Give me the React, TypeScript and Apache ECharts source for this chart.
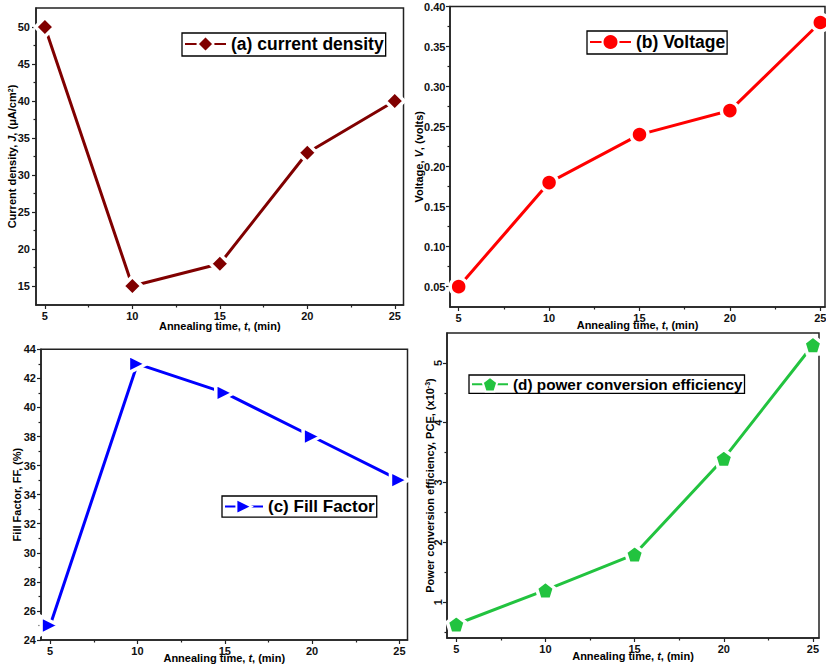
import React, { useEffect, useRef } from "react";
import * as echarts from "echarts";

const times = [5, 10, 15, 20, 25];
const currentDensity = [50, 15, 18, 33, 40];
const voltage = [0.05, 0.18, 0.24, 0.27, 0.38];
const fillFactor = [25, 43, 41, 38, 35];
const pce = [0.63, 1.2, 1.8, 3.4, 5.3];

const xMajor = [5, 10, 15, 20, 25];
const xMinor = [7.5, 12.5, 17.5, 22.5];
const aMajor = [15, 20, 25, 30, 35, 40, 45, 50];
const aMinor = [17.5, 22.5, 27.5, 32.5, 37.5, 42.5, 47.5];
const bMajor = [0.05, 0.1, 0.15, 0.2, 0.25, 0.3, 0.35, 0.4];
const bMinor = [0.075, 0.125, 0.175, 0.225, 0.275, 0.325, 0.375];
const cMajor = [24, 26, 28, 30, 32, 34, 36, 38, 40, 42, 44];
const cMinor = [25, 27, 29, 31, 33, 35, 37, 39, 41, 43];
const dMajor = [1, 2, 3, 4, 5];
const dMinor = [0.5, 1.5, 2.5, 3.5, 4.5];

const FONT = "'Liberation Sans', Arial, sans-serif";
const AXIS_COLOR = "#222";
const PENTAGON =
  "path://M0,-50 L47.55,-15.45 L29.39,40.45 L-29.39,40.45 L-47.55,-15.45 Z";

const richBase = {
  n: { fontSize: 11, fontWeight: "bold", fontFamily: FONT, color: "#000" },
  i: { fontSize: 11, fontWeight: "bold", fontStyle: "italic", fontFamily: FONT, color: "#000" },
  s: { fontSize: 7, fontWeight: "bold", fontFamily: FONT, color: "#000", verticalAlign: "top" },
};

type Panel = {
  grid: { left: number; top: number; width: number; height: number };
  xRange: [number, number];
  yRange: [number, number];
  yMajor: number[];
  yMinor: number[];
  yFmt: (v: number) => string;
  yName: string;
  xNameGap: number;
  yNameGap: number;
  yLabelMargin: number;
  yLabelRotate: number;
  name: string;
  values: number[];
  color: string;
  symbol: string;
  symbolSize: number;
  symbolRotate: number;
  legend: { left: number; top: number; fontSize: number; itemWidth: number; itemHeight: number; padding: number[] };
};

const panels: Panel[] = [
  {
    grid: { left: 36, top: 8, width: 367.5, height: 297 },
    xRange: [4.49, 25.5],
    yRange: [12.43, 52.57],
    yMajor: aMajor,
    yMinor: aMinor,
    yFmt: (v) => String(v),
    yName: "{n|Current density, }{i|J}{n|, (μA/cm}{s|2}{n|)}",
    xNameGap: 15,
    yNameGap: 18.5,
    yLabelMargin: 6,
    yLabelRotate: 0,
    name: "(a) current density",
    values: currentDensity,
    color: "#800000",
    symbol: "diamond",
    symbolSize: 19,
    symbolRotate: 0,
    legend: { left: 182, top: 33, fontSize: 17.5, itemWidth: 41, itemHeight: 20, padding: [2, 2, 3, 2] },
  },
  {
    grid: { left: 450, top: 6.5, width: 375, height: 300.5 },
    xRange: [4.52, 25.26],
    yRange: [0.0246, 0.4],
    yMajor: bMajor,
    yMinor: bMinor,
    yFmt: (v) => v.toFixed(2),
    yName: "{n|Voltage, }{i|V}{n|, (volts)}",
    xNameGap: 12,
    yNameGap: 26,
    yLabelMargin: 4.5,
    yLabelRotate: 0,
    name: "(b) Voltage",
    values: voltage,
    color: "#ff0000",
    symbol: "circle",
    symbolSize: 17,
    symbolRotate: 0,
    legend: { left: 587, top: 31, fontSize: 17.5, itemWidth: 41, itemHeight: 20, padding: [2, 2, 3, 2] },
  },
  {
    grid: { left: 41, top: 349.3, width: 366.5, height: 290.7 },
    xRange: [4.48, 25.46],
    yRange: [24, 44],
    yMajor: cMajor,
    yMinor: cMinor,
    yFmt: (v) => String(v),
    yName: "{n|Fill Factor, FF, (%)}",
    xNameGap: 12,
    yNameGap: 18.5,
    yLabelMargin: 5,
    yLabelRotate: 0,
    name: "(c) Fill Factor",
    values: fillFactor,
    color: "#0000ff",
    symbol: "triangle",
    symbolSize: 18,
    symbolRotate: -90,
    legend: { left: 222, top: 496, fontSize: 17, itemWidth: 38, itemHeight: 19, padding: [2, 2, 2, 2] },
  },
  {
    grid: { left: 447, top: 333, width: 372, height: 305 },
    xRange: [4.48, 25.34],
    yRange: [0.4, 5.5],
    yMajor: dMajor,
    yMinor: dMinor,
    yFmt: (v) => String(v),
    yName: "{n|Power conversion efficiency, PCE, (x10}{s|-3}{n|)}",
    xNameGap: 12,
    yNameGap: 12,
    yLabelMargin: 3.5,
    yLabelRotate: 90,
    name: "(d) power conversion efficiency",
    values: pce,
    color: "#22c33f",
    symbol: PENTAGON,
    symbolSize: 18,
    symbolRotate: 0,
    legend: { left: 469, top: 375, fontSize: 15.3, itemWidth: 36, itemHeight: 18, padding: [1, 2, 1, 2] },
  },
];

const tickLine = { color: AXIS_COLOR, width: 1.2 };
const labelStyle = { fontSize: 11, fontWeight: "bold" as const, fontFamily: FONT, color: "#111" };

function buildOption() {
  const grid: any[] = [];
  const xAxis: any[] = [];
  const yAxis: any[] = [];
  const series: any[] = [];
  const legend: any[] = [];

  panels.forEach((p, i) => {
    grid.push({
      ...p.grid,
      show: true,
      borderColor: AXIS_COLOR,
      borderWidth: 1.5,
      backgroundColor: "transparent",
      containLabel: false,
      outerBoundsMode: "none",
    });
    xAxis.push({
      type: "value",
      gridIndex: i,
      position: "bottom",
      min: p.xRange[0],
      max: p.xRange[1],
      axisLine: { show: true, onZero: false, lineStyle: { color: AXIS_COLOR, width: 1.5 } },
      axisTick: { show: true, inside: false, length: 4, customValues: xMajor, lineStyle: tickLine },
      axisLabel: { show: true, customValues: xMajor, margin: 5, ...labelStyle, formatter: (v: number) => String(v) },
      splitLine: { show: false },
      name: "{n|Annealing time, }{i|t}{n|, (min)}",
      nameLocation: "middle",
      nameGap: p.xNameGap,
      nameMoveOverlap: false,
      nameTextStyle: { ...labelStyle, rich: richBase },
    });
    xAxis.push({
      type: "value",
      gridIndex: i,
      position: "bottom",
      offset: 0,
      min: p.xRange[0],
      max: p.xRange[1],
      axisLine: { show: false, onZero: false },
      axisTick: { show: true, inside: false, length: 2.5, customValues: xMinor, lineStyle: tickLine },
      axisLabel: { show: false },
      splitLine: { show: false },
    });
    yAxis.push({
      type: "value",
      gridIndex: i,
      position: "left",
      min: p.yRange[0],
      max: p.yRange[1],
      axisLine: { show: true, onZero: false, lineStyle: { color: AXIS_COLOR, width: 1.5 } },
      axisTick: { show: true, inside: false, length: 4, customValues: p.yMajor, lineStyle: tickLine },
      axisLabel: {
        show: true,
        customValues: p.yMajor,
        margin: p.yLabelMargin,
        rotate: p.yLabelRotate,
        ...labelStyle,
        formatter: (v: number) => p.yFmt(v),
      },
      splitLine: { show: false },
      name: p.yName,
      nameLocation: "middle",
      nameGap: p.yNameGap,
      nameMoveOverlap: false,
      nameTextStyle: { ...labelStyle, rich: richBase },
    });
    yAxis.push({
      type: "value",
      gridIndex: i,
      position: "left",
      offset: 0,
      min: p.yRange[0],
      max: p.yRange[1],
      axisLine: { show: false, onZero: false },
      axisTick: { show: true, inside: false, length: 2.5, customValues: p.yMinor, lineStyle: tickLine },
      axisLabel: { show: false },
      splitLine: { show: false },
    });
    series.push({
      type: "line",
      name: p.name,
      xAxisIndex: 2 * i,
      yAxisIndex: 2 * i,
      data: times.map((t, j) => [t, p.values[j]]),
      symbol: p.symbol,
      symbolSize: p.symbolSize,
      symbolRotate: p.symbolRotate,
      lineStyle: { color: p.color, width: 3 },
      itemStyle: { color: p.color, borderColor: "#fff", borderWidth: 3.5 },
      emphasis: { disabled: true },
      clip: false,
      z: 3,
    });
    legend.push({
      data: [p.name],
      left: p.legend.left,
      top: p.legend.top,
      orient: "horizontal",
      padding: p.legend.padding,
      itemWidth: p.legend.itemWidth,
      itemHeight: p.legend.itemHeight,
      borderColor: "#000",
      borderWidth: 1.3,
      borderRadius: 0,
      backgroundColor: "#fff",
      selectedMode: false,
      textStyle: { fontSize: p.legend.fontSize, fontWeight: "bold", fontFamily: FONT, color: "#000" },
    });
  });

  return {
    animation: false,
    backgroundColor: "#fff",
    textStyle: { fontFamily: FONT },
    tooltip: { show: false },
    grid,
    xAxis,
    yAxis,
    series,
    legend,
  };
}

export default function App() {
  const ref = useRef<HTMLDivElement>(null);
  useEffect(() => {
    document.body.style.margin = "0";
    if (!ref.current) return;
    const chart = echarts.init(ref.current, null, { renderer: "svg" });
    chart.setOption(buildOption() as any);
    return () => chart.dispose();
  }, []);
  return <div ref={ref} style={{ width: 826, height: 669, background: "#fff" }} />;
}
